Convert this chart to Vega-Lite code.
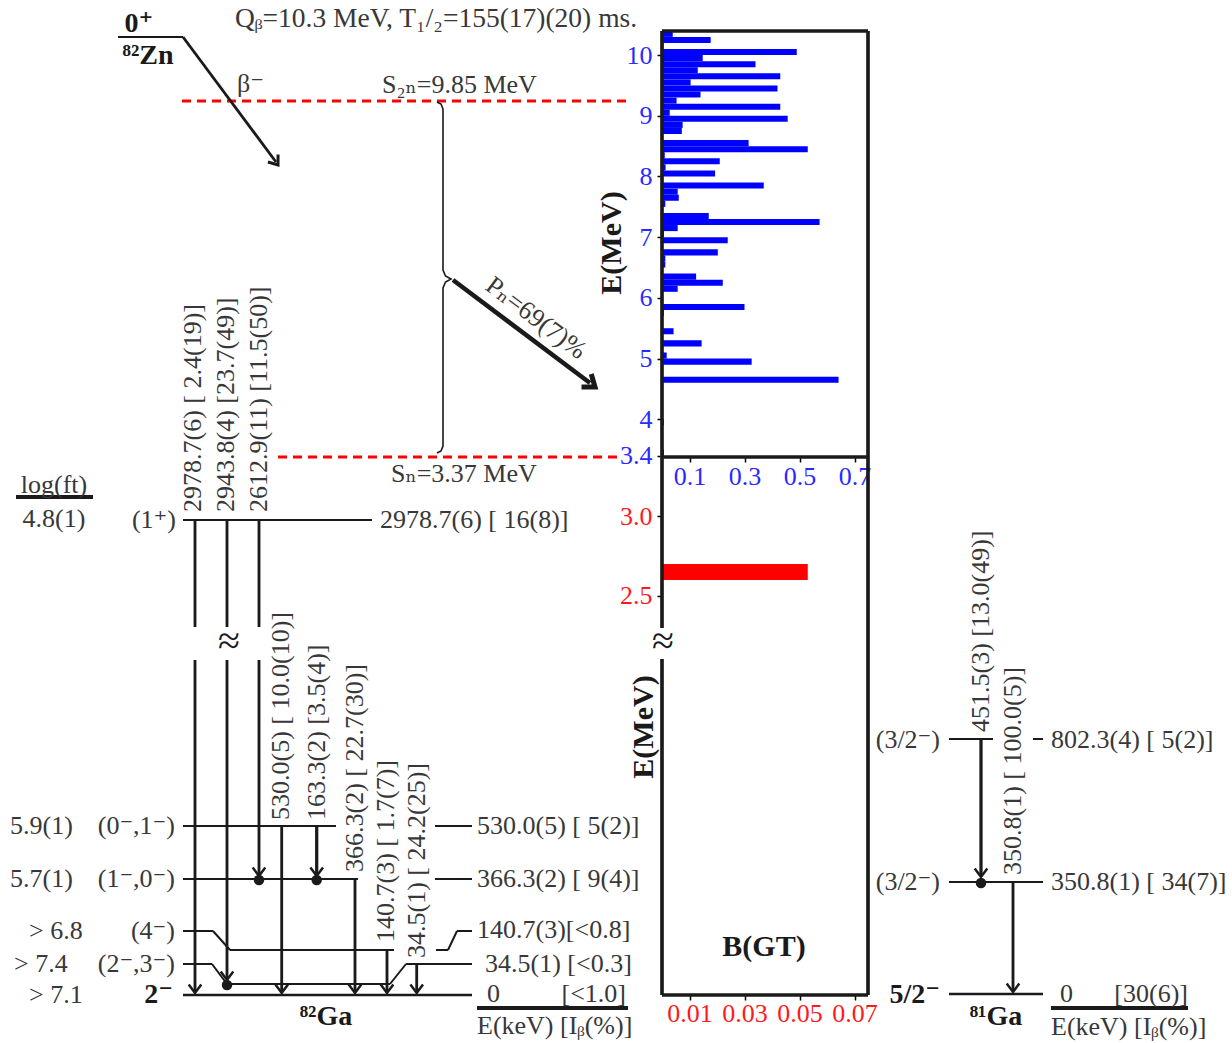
{
  "$schema": "https://vega.github.io/schema/vega-lite/v6.json",
  "width": 1232,
  "height": 1043,
  "padding": 0,
  "autosize": {"type": "none"},
  "background": "white",
  "config": {"view": {"stroke": null}},
  "datasets": {
    "blue": [
      {"e0": 10.3, "e1": 10.4, "b": 0.039},
      {"e0": 10.2, "e1": 10.3, "b": 0.177},
      {"e0": 10.1, "e1": 10.2, "b": 0.005},
      {"e0": 10.0, "e1": 10.1, "b": 0.49},
      {"e0": 9.9, "e1": 10.0, "b": 0.148},
      {"e0": 9.8, "e1": 9.9, "b": 0.34},
      {"e0": 9.7, "e1": 9.8, "b": 0.13},
      {"e0": 9.6, "e1": 9.7, "b": 0.43},
      {"e0": 9.5, "e1": 9.6, "b": 0.104},
      {"e0": 9.4, "e1": 9.5, "b": 0.42},
      {"e0": 9.3, "e1": 9.4, "b": 0.14},
      {"e0": 9.2, "e1": 9.3, "b": 0.053},
      {"e0": 9.1, "e1": 9.2, "b": 0.43},
      {"e0": 9.0, "e1": 9.1, "b": 0.028},
      {"e0": 8.9, "e1": 9.0, "b": 0.457},
      {"e0": 8.8, "e1": 8.9, "b": 0.075},
      {"e0": 8.7, "e1": 8.8, "b": 0.072},
      {"e0": 8.6, "e1": 8.7, "b": 0.003},
      {"e0": 8.5, "e1": 8.6, "b": 0.315},
      {"e0": 8.4, "e1": 8.5, "b": 0.53},
      {"e0": 8.3, "e1": 8.4, "b": 0.01},
      {"e0": 8.2, "e1": 8.3, "b": 0.21},
      {"e0": 8.1, "e1": 8.2, "b": 0.013},
      {"e0": 8.0, "e1": 8.1, "b": 0.193},
      {"e0": 7.9, "e1": 8.0, "b": 0.004},
      {"e0": 7.8, "e1": 7.9, "b": 0.37},
      {"e0": 7.7, "e1": 7.8, "b": 0.057},
      {"e0": 7.6, "e1": 7.7, "b": 0.061},
      {"e0": 7.5, "e1": 7.6, "b": 0.012},
      {"e0": 7.3, "e1": 7.4, "b": 0.17},
      {"e0": 7.2, "e1": 7.3, "b": 0.573},
      {"e0": 7.1, "e1": 7.2, "b": 0.057},
      {"e0": 7.0, "e1": 7.1, "b": 0.007},
      {"e0": 6.9, "e1": 7.0, "b": 0.239},
      {"e0": 6.7, "e1": 6.8, "b": 0.203},
      {"e0": 6.6, "e1": 6.7, "b": 0.012},
      {"e0": 6.5, "e1": 6.6, "b": 0.012},
      {"e0": 6.3, "e1": 6.4, "b": 0.124},
      {"e0": 6.2, "e1": 6.3, "b": 0.221},
      {"e0": 6.1, "e1": 6.2, "b": 0.057},
      {"e0": 5.8, "e1": 5.9, "b": 0.30},
      {"e0": 5.7, "e1": 5.8, "b": 0.007},
      {"e0": 5.6, "e1": 5.7, "b": 0.002},
      {"e0": 5.4, "e1": 5.5, "b": 0.042},
      {"e0": 5.2, "e1": 5.3, "b": 0.144},
      {"e0": 5.0, "e1": 5.1, "b": 0.017},
      {"e0": 4.9, "e1": 5.0, "b": 0.326},
      {"e0": 4.6, "e1": 4.7, "b": 0.642},
      {"e0": 3.9, "e1": 4.0, "b": 0.007},
      {"e0": 3.4, "e1": 3.5, "b": 0.007}
    ],
    "red": [
      {"e0": 2.6, "e1": 2.7, "b": 0.053}
    ],
    "lines": [
      {"x": 118, "y": 37, "x2": 183, "y2": 37, "kind": "lvl"},
      {"x": 183, "y": 37, "x2": 276, "y2": 162, "kind": "gam"},
      {"x": 183, "y": 520, "x2": 372, "y2": 520, "kind": "lvl"},
      {"x": 183, "y": 826, "x2": 336, "y2": 826, "kind": "lvl"},
      {"x": 435, "y": 826, "x2": 472, "y2": 826, "kind": "lvl"},
      {"x": 183, "y": 879, "x2": 358, "y2": 879, "kind": "lvl"},
      {"x": 435, "y": 879, "x2": 472, "y2": 879, "kind": "lvl"},
      {"x": 183, "y": 931, "x2": 213, "y2": 931, "kind": "lvl"},
      {"x": 213, "y": 931, "x2": 230, "y2": 950, "kind": "lvl"},
      {"x": 230, "y": 950, "x2": 394, "y2": 950, "kind": "lvl"},
      {"x": 436, "y": 950, "x2": 448, "y2": 950, "kind": "lvl"},
      {"x": 448, "y": 950, "x2": 457, "y2": 931, "kind": "lvl"},
      {"x": 457, "y": 931, "x2": 472, "y2": 931, "kind": "lvl"},
      {"x": 183, "y": 964, "x2": 212, "y2": 964, "kind": "lvl"},
      {"x": 212, "y": 964, "x2": 227, "y2": 984, "kind": "lvl"},
      {"x": 227, "y": 984, "x2": 390, "y2": 984, "kind": "lvl"},
      {"x": 390, "y": 984, "x2": 406, "y2": 964, "kind": "lvl"},
      {"x": 406, "y": 964, "x2": 472, "y2": 964, "kind": "lvl"},
      {"x": 183, "y": 995, "x2": 472, "y2": 995, "kind": "gnd"},
      {"x": 195, "y": 520, "x2": 195, "y2": 627, "kind": "gam"},
      {"x": 195, "y": 660, "x2": 195, "y2": 992, "kind": "gam"},
      {"x": 227, "y": 520, "x2": 227, "y2": 627, "kind": "gam"},
      {"x": 227, "y": 660, "x2": 227, "y2": 979, "kind": "gam"},
      {"x": 259, "y": 520, "x2": 259, "y2": 627, "kind": "gam"},
      {"x": 259, "y": 660, "x2": 259, "y2": 875, "kind": "gam"},
      {"x": 281.7, "y": 826, "x2": 281.7, "y2": 992, "kind": "gam"},
      {"x": 316.7, "y": 826, "x2": 316.7, "y2": 875, "kind": "strong"},
      {"x": 355, "y": 879, "x2": 355, "y2": 992, "kind": "gam"},
      {"x": 387, "y": 950, "x2": 387, "y2": 992, "kind": "gam"},
      {"x": 416.7, "y": 964, "x2": 416.7, "y2": 992, "kind": "gam"},
      {"x": 949, "y": 739, "x2": 993, "y2": 739, "kind": "lvl"},
      {"x": 1033, "y": 739, "x2": 1043, "y2": 739, "kind": "lvl"},
      {"x": 949, "y": 882, "x2": 1043, "y2": 882, "kind": "lvl"},
      {"x": 949, "y": 994, "x2": 1043, "y2": 994, "kind": "gnd"},
      {"x": 981, "y": 739, "x2": 981, "y2": 876, "kind": "strong"},
      {"x": 1013, "y": 882, "x2": 1013, "y2": 991, "kind": "gam"},
      {"x": 477, "y": 1008, "x2": 628, "y2": 1008, "kind": "thin"},
      {"x": 1051, "y": 1008, "x2": 1188, "y2": 1008, "kind": "thin"},
      {"x": 16, "y": 497, "x2": 93, "y2": 497, "kind": "thin"},
      {"x": 662, "y": 31, "x2": 868, "y2": 31, "kind": "frame"},
      {"x": 868, "y": 31, "x2": 868, "y2": 995, "kind": "frame"},
      {"x": 662, "y": 31, "x2": 662, "y2": 628, "kind": "frame"},
      {"x": 662, "y": 659, "x2": 662, "y2": 995, "kind": "frame"},
      {"x": 662, "y": 457, "x2": 868, "y2": 457, "kind": "frame"},
      {"x": 662, "y": 995, "x2": 868, "y2": 995, "kind": "frame"},
      {"x": 453, "y": 280, "x2": 590, "y2": 383, "kind": "pn"}
    ],
    "dashed": [
      {"x": 182, "y": 101, "x2": 630, "y2": 101},
      {"x": 278, "y": 457, "x2": 623, "y2": 457}
    ],
    "brace": [
      {"x": 437, "y": 102, "i": 0},
      {"x": 441, "y": 104, "i": 1},
      {"x": 443, "y": 109, "i": 2},
      {"x": 443, "y": 270, "i": 3},
      {"x": 445.5, "y": 276, "i": 4},
      {"x": 451, "y": 279, "i": 5},
      {"x": 445.5, "y": 282, "i": 6},
      {"x": 443, "y": 288, "i": 7},
      {"x": 443, "y": 446, "i": 8},
      {"x": 441, "y": 451, "i": 9},
      {"x": 437, "y": 453, "i": 10}
    ],
    "arrows": [
      {"x": 195, "y": 993}, {"x": 227, "y": 980}, {"x": 259, "y": 876},
      {"x": 281.7, "y": 993}, {"x": 316.7, "y": 876}, {"x": 355, "y": 993},
      {"x": 387, "y": 993}, {"x": 416.7, "y": 993}, {"x": 981, "y": 877},
      {"x": 1013, "y": 992}
    ],
    "arrow_beta": [{"x": 278, "y": 165}],
    "arrow_pn": [{"x": 595, "y": 387}],
    "dots": [
      {"x": 227, "y": 985}, {"x": 259, "y": 880}, {"x": 316.7, "y": 880}, {"x": 981, "y": 883}
    ],
    "t_title": [
      {"x": 436, "y": 19, "t": "Qᵦ=10.3 MeV, T₁/₂=155(17)(20) ms."}
    ],
    "t_left": [
      {"x": 382, "y": 85, "t": "S₂ₙ=9.85 MeV"},
      {"x": 391, "y": 474, "t": "Sₙ=3.37 MeV"},
      {"x": 237, "y": 84, "t": "β⁻"},
      {"x": 380, "y": 520, "t": "2978.7(6) [ 16(8)]"},
      {"x": 477, "y": 826, "t": "530.0(5) [ 5(2)]"},
      {"x": 477, "y": 879, "t": "366.3(2) [ 9(4)]"},
      {"x": 477, "y": 930, "t": "140.7(3)[<0.8]"},
      {"x": 485, "y": 964, "t": "34.5(1) [<0.3]"},
      {"x": 487, "y": 994, "t": "0"},
      {"x": 477, "y": 1026, "t": "E(keV) [Iᵦ(%)]"},
      {"x": 10, "y": 826, "t": "5.9(1)"},
      {"x": 10, "y": 879, "t": "5.7(1)"},
      {"x": 29, "y": 931, "t": "> 6.8"},
      {"x": 14, "y": 964, "t": "> 7.4"},
      {"x": 29, "y": 995, "t": "> 7.1"},
      {"x": 1051, "y": 740, "t": "802.3(4) [ 5(2)]"},
      {"x": 1051, "y": 882, "t": "350.8(1) [ 34(7)]"},
      {"x": 1060, "y": 994, "t": "0"},
      {"x": 1051, "y": 1027, "t": "E(keV) [Iᵦ(%)]"}
    ],
    "t_right": [
      {"x": 176, "y": 520, "t": "(1⁺)"},
      {"x": 175, "y": 826, "t": "(0⁻,1⁻)"},
      {"x": 175, "y": 879, "t": "(1⁻,0⁻)"},
      {"x": 175, "y": 931, "t": "(4⁻)"},
      {"x": 175, "y": 964, "t": "(2⁻,3⁻)"},
      {"x": 940, "y": 740, "t": "(3/2⁻)"},
      {"x": 940, "y": 882, "t": "(3/2⁻)"},
      {"x": 626, "y": 994, "t": "[<1.0]"},
      {"x": 1188, "y": 994, "t": "[30(6)]"}
    ],
    "t_center": [
      {"x": 54, "y": 485, "t": "log(ft)"},
      {"x": 54, "y": 519, "t": "4.8(1)"}
    ],
    "t_vert": [
      {"x": 193, "y": 512, "t": "2978.7(6) [ 2.4(19)]"},
      {"x": 226, "y": 512, "t": "2943.8(4) [23.7(49)]"},
      {"x": 259, "y": 512, "t": "2612.9(11) [11.5(50)]"},
      {"x": 281, "y": 820, "t": "530.0(5) [ 10.0(10)]"},
      {"x": 316.7, "y": 820, "t": "163.3(2) [3.5(4)]"},
      {"x": 355, "y": 872, "t": "366.3(2) [ 22.7(30)]"},
      {"x": 386, "y": 942, "t": "140.7(3) [ 1.7(7)]"},
      {"x": 417, "y": 958, "t": "34.5(1) [ 24.2(25)]"},
      {"x": 981, "y": 732, "t": "451.5(3) [13.0(49)]"},
      {"x": 1013.3, "y": 875, "t": "350.8(1) [ 100.0(5)]"}
    ],
    "t_bold_c": [
      {"x": 139, "y": 24, "t": "0⁺"},
      {"x": 148, "y": 56, "t": "⁸²Zn"},
      {"x": 326, "y": 1017, "t": "⁸²Ga"},
      {"x": 996, "y": 1017, "t": "⁸¹Ga"}
    ],
    "t_bold_r": [
      {"x": 173, "y": 995, "t": "2⁻"},
      {"x": 940, "y": 995, "t": "5/2⁻"}
    ],
    "t_bold_v": [
      {"x": 612, "y": 243, "t": "E(MeV)"},
      {"x": 644, "y": 727, "t": "E(MeV)"}
    ],
    "t_bgt": [{"x": 764, "y": 947, "t": "B(GT)"}],
    "t_pn": [{"x": 536, "y": 318, "t": "Pₙ=69(7)%"}],
    "t_approx": [{"x": 229, "y": 642, "t": "≈"}, {"x": 663, "y": 642, "t": "≈"}]
  },
  "layer": [
    {
      "data": {"name": "blue"},
      "mark": {"type": "rect", "color": "#0000ff"},
      "encoding": {
        "x": {"field": "b", "type": "quantitative",
              "scale": {"domain": [-2.4073, 2.0727], "nice": false, "zero": false},
              "axis": {"orient": "bottom", "offset": -586, "values": [0.1, 0.3, 0.5, 0.7], "labelExpr": "'' + datum.value",
                       "domain": false, "grid": false, "title": null, "tickSize": 5, "tickWidth": 1.5, "tickColor": "#000000",
                       "labelColor": "#2a2aff", "labelFont": "Liberation Serif", "labelFontSize": 26, "labelPadding": 1,
                       "labelOverlap": false, "labelFlush": false}},
        "x2": {"datum": 0},
        "y": {"field": "e0", "type": "quantitative",
              "scale": {"domain": [-6.2767, 10.9077], "nice": false, "zero": false},
              "axis": {"orient": "left", "offset": -662, "values": [3.4, 4, 5, 6, 7, 8, 9, 10], "labelExpr": "'' + datum.value",
                       "domain": false, "grid": false, "title": null, "tickSize": 5, "tickWidth": 1.5, "tickColor": "#000000",
                       "labelColor": "#2a2aff", "labelFont": "Liberation Serif", "labelFontSize": 26, "labelPadding": 5,
                       "labelOverlap": false, "labelFlush": false}},
        "y2": {"field": "e1"}
      }
    },
    {
      "data": {"name": "red"},
      "mark": {"type": "rect", "color": "#ff0000"},
      "encoding": {
        "x": {"field": "b", "type": "quantitative",
              "scale": {"domain": [-0.24073, 0.20727], "nice": false, "zero": false},
              "axis": {"orient": "bottom", "offset": -48, "values": [0.01, 0.03, 0.05, 0.07], "labelExpr": "format(datum.value, '.2f')",
                       "domain": false, "grid": false, "title": null, "tickSize": 5, "tickWidth": 1.5, "tickColor": "#000000",
                       "labelColor": "#ff1a1a", "labelFont": "Liberation Serif", "labelFontSize": 26, "labelPadding": 0,
                       "labelOverlap": false, "labelFlush": false}},
        "x2": {"datum": 0},
        "y": {"field": "e0", "type": "quantitative",
              "scale": {"domain": [-0.3084, 6.2431], "nice": false, "zero": false},
              "axis": {"orient": "left", "offset": -662, "values": [2.5, 3.0], "labelExpr": "format(datum.value, '.1f')",
                       "domain": false, "grid": false, "title": null, "tickSize": 5, "tickWidth": 1.5, "tickColor": "#000000",
                       "labelColor": "#ff1a1a", "labelFont": "Liberation Serif", "labelFontSize": 26, "labelPadding": 5,
                       "labelOverlap": false, "labelFlush": false}},
        "y2": {"field": "e1"}
      }
    },
    {
      "encoding": {
        "x": {"field": "x", "type": "quantitative", "scale": {"domain": [0, 1232], "nice": false, "zero": false}, "axis": null},
        "y": {"field": "y", "type": "quantitative", "scale": {"domain": [0, 1043], "reverse": true, "nice": false, "zero": false}, "axis": null}
      },
      "layer": [
        {
          "data": {"name": "dashed"},
          "mark": {"type": "rule", "color": "#ff0000", "strokeWidth": 3, "strokeDash": [9, 6]},
          "encoding": {"x2": {"field": "x2"}, "y2": {"field": "y2"}}
        },
        {
          "data": {"name": "lines"},
          "mark": {"type": "rule", "color": "#1a1a1a", "strokeCap": "butt"},
          "encoding": {
            "x2": {"field": "x2"}, "y2": {"field": "y2"},
            "strokeWidth": {"field": "kind", "type": "ordinal",
                            "scale": {"domain": ["lvl", "gnd", "gam", "strong", "frame", "thin", "pn"], "range": [2, 4.5, 3, 4, 2, 1.5, 6]},
                            "legend": null}
          }
        },
        {
          "data": {"name": "brace"},
          "mark": {"type": "line", "color": "#1a1a1a", "strokeWidth": 1.6},
          "encoding": {"order": {"field": "i", "type": "quantitative"}}
        },
        {
          "data": {"name": "arrows"},
          "mark": {"type": "point", "shape": "M-0.9,-1.2L0,0L0.9,-1.2", "filled": false, "size": 196, "stroke": "#1a1a1a", "strokeWidth": 2.5, "opacity": 1}
        },
        {
          "data": {"name": "arrow_beta"},
          "mark": {"type": "point", "shape": "M-0.9,-1.2L0,0L0.9,-1.2", "filled": false, "size": 196, "angle": 323.4, "stroke": "#1a1a1a", "strokeWidth": 3, "opacity": 1}
        },
        {
          "data": {"name": "arrow_pn"},
          "mark": {"type": "point", "shape": "M-0.9,-1.2L0,0L0.9,-1.2", "filled": false, "size": 324, "angle": 307, "stroke": "#1a1a1a", "strokeWidth": 5, "opacity": 1}
        },
        {
          "data": {"name": "dots"},
          "mark": {"type": "point", "shape": "circle", "filled": true, "size": 110, "color": "#1a1a1a", "opacity": 1}
        },
        {
          "data": {"name": "t_title"},
          "mark": {"type": "text", "align": "center", "baseline": "middle", "font": "Liberation Serif, DejaVu Serif", "fontSize": 27.5, "color": "#383838"},
          "encoding": {"text": {"field": "t"}}
        },
        {
          "data": {"name": "t_left"},
          "mark": {"type": "text", "align": "left", "baseline": "middle", "font": "Liberation Serif, DejaVu Serif", "fontSize": 26, "color": "#383838"},
          "encoding": {"text": {"field": "t"}}
        },
        {
          "data": {"name": "t_right"},
          "mark": {"type": "text", "align": "right", "baseline": "middle", "font": "Liberation Serif, DejaVu Serif", "fontSize": 26, "color": "#383838"},
          "encoding": {"text": {"field": "t"}}
        },
        {
          "data": {"name": "t_center"},
          "mark": {"type": "text", "align": "center", "baseline": "middle", "font": "Liberation Serif, DejaVu Serif", "fontSize": 26, "color": "#383838"},
          "encoding": {"text": {"field": "t"}}
        },
        {
          "data": {"name": "t_vert"},
          "mark": {"type": "text", "align": "left", "baseline": "middle", "angle": 270, "font": "Liberation Serif, DejaVu Serif", "fontSize": 26, "color": "#383838"},
          "encoding": {"text": {"field": "t"}}
        },
        {
          "data": {"name": "t_bold_c"},
          "mark": {"type": "text", "align": "center", "baseline": "middle", "font": "Liberation Serif, DejaVu Serif", "fontSize": 28, "fontWeight": "bold", "color": "#1a1a1a"},
          "encoding": {"text": {"field": "t"}}
        },
        {
          "data": {"name": "t_bold_r"},
          "mark": {"type": "text", "align": "right", "baseline": "middle", "font": "Liberation Serif, DejaVu Serif", "fontSize": 28, "fontWeight": "bold", "color": "#1a1a1a"},
          "encoding": {"text": {"field": "t"}}
        },
        {
          "data": {"name": "t_bold_v"},
          "mark": {"type": "text", "align": "center", "baseline": "middle", "angle": 270, "font": "Liberation Serif, DejaVu Serif", "fontSize": 30, "fontWeight": "bold", "color": "#1a1a1a"},
          "encoding": {"text": {"field": "t"}}
        },
        {
          "data": {"name": "t_bgt"},
          "mark": {"type": "text", "align": "center", "baseline": "middle", "font": "Liberation Serif, DejaVu Serif", "fontSize": 30, "fontWeight": "bold", "color": "#1a1a1a"},
          "encoding": {"text": {"field": "t"}}
        },
        {
          "data": {"name": "t_pn"},
          "mark": {"type": "text", "align": "center", "baseline": "middle", "angle": 37, "font": "Liberation Serif, DejaVu Serif", "fontSize": 26, "color": "#383838"},
          "encoding": {"text": {"field": "t"}}
        },
        {
          "data": {"name": "t_approx"},
          "mark": {"type": "text", "align": "center", "baseline": "middle", "font": "Liberation Serif, DejaVu Serif", "fontSize": 40, "color": "#1a1a1a"},
          "encoding": {"text": {"field": "t"}}
        }
      ]
    }
  ],
  "resolve": {"scale": {"x": "independent", "y": "independent"}}
}
